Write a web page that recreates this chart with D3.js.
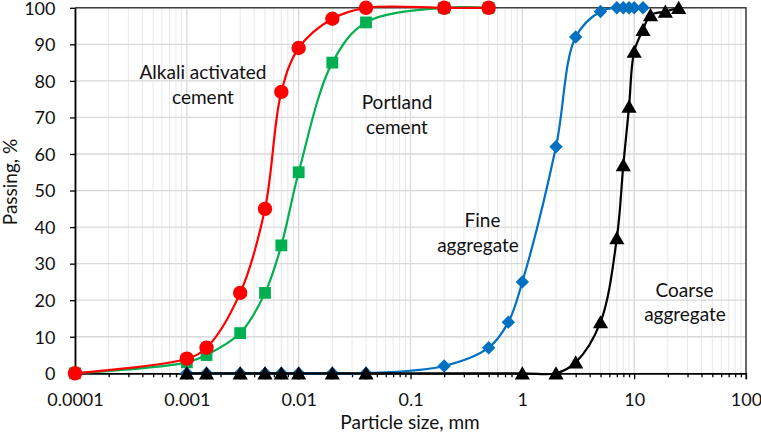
<!DOCTYPE html>
<html>
<head>
<meta charset="utf-8">
<script src="https://cdn.jsdelivr.net/npm/d3@7/dist/d3.min.js"></script>
<style>
  html, body { margin: 0; padding: 0; background: #fff; }
  svg { display: block; font-family: Lato, "Open Sans", sans-serif; }
</style>
</head>
<body>
<div id="chart"></div>
<script>
// Particle size distribution: passing % vs particle size (mm, log scale)

const alkaliSize = [0.0001, 0.001, 0.0015, 0.003, 0.005, 0.007, 0.01, 0.02, 0.04, 0.2, 0.5]
const alkaliPass = [0, 4, 7, 22, 45, 77, 89, 97, 100, 100, 100]

const portlandSize = [0.0001, 0.001, 0.0015, 0.003, 0.005, 0.007, 0.01, 0.02, 0.04, 0.2, 0.5]
const portlandPass = [0, 3, 5, 11, 22, 35, 55, 85, 96, 100, 100]

const fineSize = [0.001, 0.0015, 0.003, 0.005, 0.007, 0.01, 0.02, 0.04, 0.2, 0.5, 0.75, 1, 2, 3, 5, 7, 8, 9, 10, 12]
const finePass = [0, 0, 0, 0, 0, 0, 0, 0, 2, 7, 14, 25, 62, 92, 99, 100, 100, 100, 100, 100]

const coarseSize = [0.001, 0.0015, 0.003, 0.005, 0.007, 0.01, 0.02, 0.04, 1, 2, 3, 5, 7, 8, 9, 10, 12, 14, 19, 25]
const coarsePass = [0, 0, 0, 0, 0, 0, 0, 0, 0, 0, 3, 14, 37, 57, 73, 88, 94, 98, 99, 100]

const xTicks = [0.0001, 0.001, 0.01, 0.1, 1, 10, 100]
const xTickLabels = ["0.0001", "0.001", "0.01", "0.1", "1", "10", "100"]
const yTicks = [0, 10, 20, 30, 40, 50, 60, 70, 80, 90, 100]

const W = 761
const H = 433
const X0 = 75, X1 = 746
const Y0 = 373.3, Y1 = 7.8

const x = d3.scaleLog().domain([0.0001, 100]).range([X0, X1])
const y = d3.scaleLinear().domain([0, 100]).range([Y0, Y1])

// minor ticks 2..9 inside every decade
const minorTicks = []
xTicks.slice(0, -1).forEach(d => {
  for (let k = 2; k <= 9; k++) minorTicks.push(d * k)
})

const svg = d3.select("#chart")
  .append("svg")
  .attr("width", W)
  .attr("height", H)

// Gridlines
const grid = svg.append("g").attr("class", "grid")
grid.selectAll("line.minor")
  .data(minorTicks)
  .join("line")
  .attr("class", "minor")
  .attr("x1", d => x(d)).attr("x2", d => x(d))
  .attr("y1", Y1).attr("y2", Y0)
  .attr("stroke", "#e8e8e8")
  .attr("stroke-width", 1)
grid.selectAll("line.majorx")
  .data(xTicks)
  .join("line")
  .attr("class", "majorx")
  .attr("x1", d => x(d)).attr("x2", d => x(d))
  .attr("y1", Y1).attr("y2", Y0)
  .attr("stroke", "#d9d9d9")
  .attr("stroke-width", 1.3)
grid.selectAll("line.majory")
  .data(yTicks)
  .join("line")
  .attr("class", "majory")
  .attr("x1", X0).attr("x2", X1)
  .attr("y1", d => y(d)).attr("y2", d => y(d))
  .attr("stroke", "#d9d9d9")
  .attr("stroke-width", 1.3)

// Plot frame (top + right)
svg.append("path")
  .attr("d", `M${X0},${Y1}H${X1}V${Y0 + 6}`)
  .attr("fill", "none")
  .attr("stroke", "#404040")
  .attr("stroke-width", 1.5)

// Axes
const xMinorAxis = svg.append("g")
  .attr("transform", `translate(0,${Y0})`)
  .call(d3.axisBottom(x).tickValues(minorTicks).tickSize(4).tickFormat(""))
xMinorAxis.select(".domain").remove()

const xAxis = svg.append("g")
  .attr("transform", `translate(0,${Y0})`)
  .call(d3.axisBottom(x).tickValues(xTicks).tickSize(6).tickSizeOuter(0)
    .tickFormat((d, i) => xTickLabels[i]))

const yAxis = svg.append("g")
  .attr("transform", `translate(${X0},0)`)
  .call(d3.axisLeft(y).tickValues(yTicks).tickSize(5).tickSizeOuter(0))

svg.selectAll(".tick line").attr("stroke", "#000").attr("stroke-width", 1.3)
xAxis.select(".domain").attr("stroke", "#000").attr("stroke-width", 1.8)
yAxis.select(".domain").attr("stroke", "#000").attr("stroke-width", 1.8)

xAxis.selectAll("text")
  .attr("y", 33).attr("dy", null)
  .attr("font-size", "18px").attr("font-family", "Lato, sans-serif").attr("fill", "#111")
yAxis.selectAll("text")
  .attr("x", -19.5).attr("dy", "0.35em")
  .attr("font-size", "18px").attr("font-family", "Lato, sans-serif").attr("fill", "#111")

// Series
const line = d3.line()
  .x(d => x(d[0]))
  .y(d => y(d[1]))
  .curve(d3.curveCatmullRom.alpha(0.5))

const series = [
  { name: "Portland cement", size: portlandSize, pass: portlandPass, color: "#00b050", marker: "square" },
  { name: "Alkali activated cement", size: alkaliSize, pass: alkaliPass, color: "#ff0000", marker: "circle" },
  { name: "Fine aggregate", size: fineSize, pass: finePass, color: "#0070c0", marker: "diamond" },
  { name: "Coarse aggregate", size: coarseSize, pass: coarsePass, color: "#000000", marker: "triangle" },
]

const MARKER = {
  circle: "M0,-7.2A7.2,7.2 0 1,1 0,7.2A7.2,7.2 0 1,1 0,-7.2Z",
  square: "M-5.9,-5.9H5.9V5.9H-5.9Z",
  diamond: "M0,-6.7L6.7,0L0,6.7L-6.7,0Z",
  triangle: "M0,-7L7.6,6.2H-7.6Z",
}

series.forEach(s => {
  const pts = s.size.map((d, i) => [d, s.pass[i]])
  const g = svg.append("g").attr("class", "series")

  g.append("path")
    .datum(pts)
    .attr("d", line)
    .attr("fill", "none")
    .attr("stroke", s.color)
    .attr("stroke-width", 2.2)

  g.selectAll("path.marker")
    .data(pts)
    .join("path")
    .attr("class", "marker")
    .attr("d", MARKER[s.marker])
    .attr("transform", d => `translate(${x(d[0])},${y(d[1])})`)
    .attr("fill", s.color)
})

// Curve labels
const labels = [
  { text: "Alkali activated", x: 203, y: 79 },
  { text: "cement", x: 203, y: 104 },
  { text: "Portland", x: 397, y: 109 },
  { text: "cement", x: 397, y: 133.5 },
  { text: "Fine", x: 482.5, y: 227 },
  { text: "aggregate", x: 478, y: 251.5 },
  { text: "Coarse", x: 684.5, y: 296.7 },
  { text: "aggregate", x: 685, y: 321 },
]
svg.append("g").selectAll("text")
  .data(labels)
  .join("text")
  .attr("x", d => d.x)
  .attr("y", d => d.y)
  .attr("text-anchor", "middle")
  .attr("font-size", "19px")
  .attr("fill", "#111")
  .text(d => d.text)

// Axis titles
svg.append("text")
  .attr("x", 410).attr("y", 429)
  .attr("text-anchor", "middle")
  .attr("font-size", "19px")
  .attr("fill", "#111")
  .text("Particle size, mm")

svg.append("text")
  .attr("transform", "translate(17,182) rotate(-90)")
  .attr("text-anchor", "middle")
  .attr("font-size", "19px")
  .attr("fill", "#111")
  .text("Passing, %")
</script>
</body>
</html>
